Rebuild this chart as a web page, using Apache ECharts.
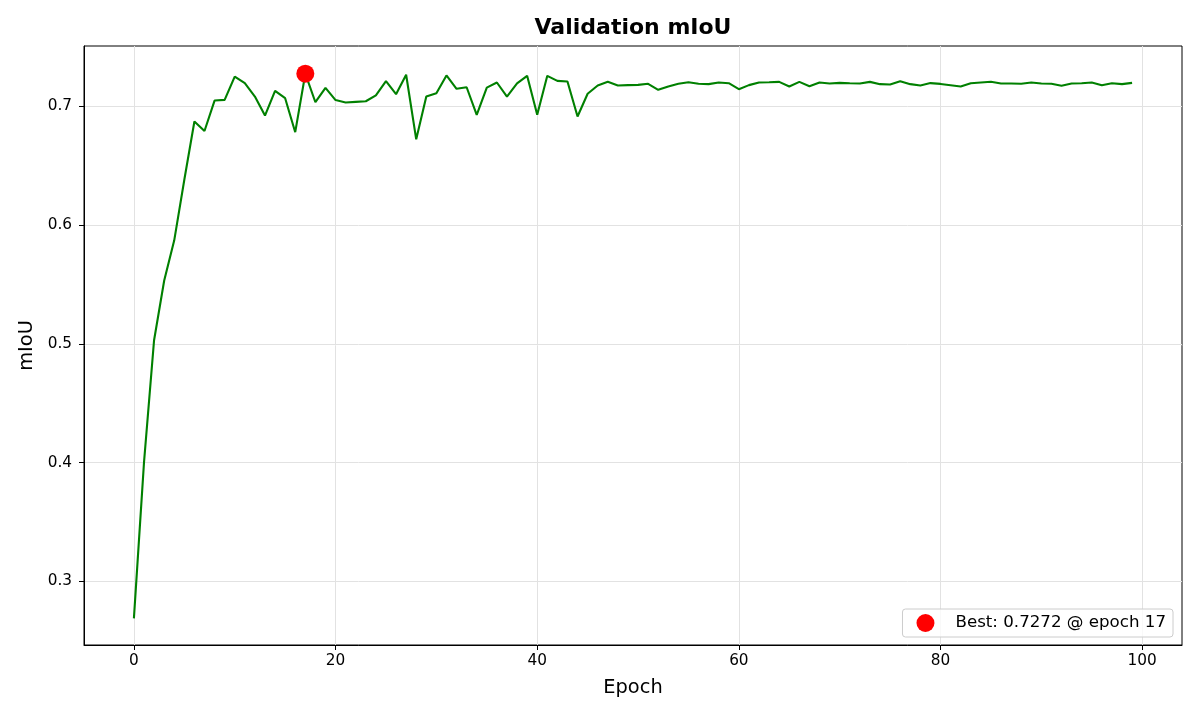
<!DOCTYPE html>
<html><head><meta charset="utf-8">
<script src="https://cdn.jsdelivr.net/npm/echarts@6/dist/echarts.min.js"></script>
<style>html,body{margin:0;padding:0;background:#fff}#c{width:1200px;height:720px}</style>
</head><body><div id="c"></div>
<script>
const miou = [
  0.2690, 0.400, 0.503, 0.553, 0.587, 0.638, 0.687, 0.679, 0.7046, 0.7052,
  0.7248, 0.7192, 0.708, 0.692, 0.7128, 0.7066, 0.678, 0.7272, 0.7032, 0.7153,
  0.705, 0.703, 0.7035, 0.704, 0.709, 0.7209, 0.710, 0.7263, 0.672, 0.708,
  0.7108, 0.7257, 0.7145, 0.7158, 0.6926, 0.7155, 0.7198, 0.708, 0.719, 0.7254,
  0.6926, 0.7254, 0.7212, 0.7206, 0.6912, 0.7103, 0.7173, 0.7204, 0.7173, 0.7176,
  0.7178, 0.7187, 0.7136, 0.7165, 0.7187, 0.720, 0.7187, 0.7184, 0.7198, 0.7192,
  0.7142, 0.7176, 0.7198, 0.720, 0.7203, 0.7164, 0.7203, 0.7167, 0.7198, 0.719,
  0.7195, 0.7192, 0.719, 0.7203, 0.7184, 0.7181, 0.7209, 0.7184, 0.7173, 0.7193,
  0.7186, 0.7175, 0.7164, 0.7192, 0.7198, 0.7204, 0.7189, 0.7189, 0.7187, 0.7198,
  0.7189, 0.7187, 0.717, 0.7189, 0.7192, 0.7198, 0.7175, 0.7192, 0.7184, 0.7195
];
const bestEpoch = 17;
const bestMiou = 0.7272;
const bestLabel = 'Best: 0.7272 @ epoch 17';
const xTicks = [0, 20, 40, 60, 80, 100];
const yTicks = [0.3, 0.4, 0.5, 0.6, 0.7];
const titleText = 'Validation mIoU';
const xName = 'Epoch';
const yName = 'mIoU';

const FONT = 'DejaVu Sans';
const chart = echarts.init(document.getElementById('c'), null, {renderer: 'canvas'});
const lineData = miou.map((v, i) => [i, v]);

chart.setOption({
  animation: false,
  backgroundColor: '#ffffff',
  textStyle: {fontFamily: FONT},
  graphic: [{
    type: 'text', x: 633, y: 28,
    style: {text: titleText, font: 'bold 22px "DejaVu Sans"', fill: '#000', textAlign: 'center', textVerticalAlign: 'middle'}
  }],
  grid: {left: 84, top: 46, right: 18, bottom: 75, show: true, borderColor: '#000', borderWidth: 1, containLabel: false, outerBoundsMode: 'none'},
  legend: {
    data: [bestLabel], right: 27, bottom: 83, orient: 'vertical',
    icon: 'circle', itemWidth: 36, itemHeight: 18,
    padding: [5, 7, 5, 14],
    borderColor: '#cccccc', borderWidth: 1, borderRadius: 3, backgroundColor: 'rgba(255,255,255,0.8)',
    textStyle: {fontFamily: FONT, fontSize: 16.67, color: '#000', padding: [0, 0, 0, 7]}
  },
  xAxis: {
    type: 'value', min: -4.95, max: 103.95,
    name: xName, nameLocation: 'middle', nameGap: 33,
    nameTextStyle: {fontFamily: FONT, fontSize: 19.4, color: '#000'},
    axisLine: {show: true, onZero: false, lineStyle: {color: '#000', width: 1}},
    axisTick: {show: true, customValues: xTicks, length: 5, lineStyle: {color: '#000', width: 1}},
    axisLabel: {customValues: xTicks, fontFamily: FONT, fontSize: 15.3, color: '#000', margin: 9,
      formatter: v => String(Math.round(v))},
    splitLine: {show: true, lineStyle: {color: '#e2e2e2', width: 1}}
  },
  yAxis: {
    type: 'value', min: 0.2466, max: 0.7505,
    name: yName, nameLocation: 'middle', nameGap: 43, nameRotate: 90,
    nameTextStyle: {fontFamily: FONT, fontSize: 19.4, color: '#000'},
    axisLine: {show: true, onZero: false, lineStyle: {color: '#000', width: 1}},
    axisTick: {show: true, customValues: yTicks, length: 5, lineStyle: {color: '#000', width: 1}},
    axisLabel: {customValues: yTicks, fontFamily: FONT, fontSize: 15.3, color: '#000', margin: 12,
      formatter: v => v.toFixed(1)},
    splitLine: {show: true, lineStyle: {color: '#e2e2e2', width: 1}}
  },
  series: [
    {
      type: 'line', name: 'mIoU', data: lineData, showSymbol: false, symbol: 'none',
      lineStyle: {color: '#008000', width: 2.1}, itemStyle: {color: '#008000'}, z: 2, silent: true
    },
    {
      type: 'scatter', name: bestLabel, data: [[bestEpoch, bestMiou]], symbolSize: 18,
      itemStyle: {color: '#ff0000', opacity: 1}, z: 3
    }
  ]
});
</script></body></html>
